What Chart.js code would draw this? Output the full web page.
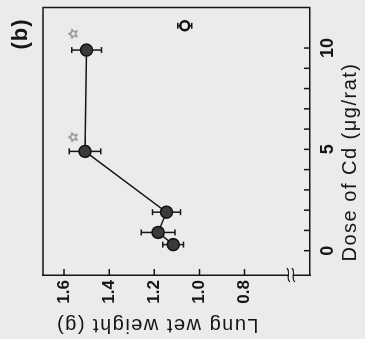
<!DOCTYPE html>
<html>
<head>
<meta charset="utf-8">
<script src="https://cdn.jsdelivr.net/npm/chart.js@4"></script>
<style>
  html, body { margin:0; padding:0; width:365px; height:339px; overflow:hidden; background:#ebebeb; }
  #wrap { position:absolute; left:0; top:0; width:339px; height:365px; transform-origin:0 0; transform: translateY(339px) rotate(-90deg); }
</style>
</head>
<body>
<div id="wrap"><canvas id="c" width="339" height="365"></canvas></div>
<script>
// ---- data ----
const doses      = [0.3, 0.9, 1.9, 4.9, 9.9];
const weights    = [1.116, 1.183, 1.146, 1.507, 1.500];
const weightErr  = [0.046, 0.075, 0.062, 0.070, 0.066];
const controlDose   = [11.1];
const controlWeight = [1.065];
const controlErr    = [0.031];
const starDoses   = [5.6, 10.7];
const starWeights = [1.56, 1.56];
const doseTicks   = [0,1,2,3,4,5,6,7,8,9,10];
const doseLabels  = [0,5,10];
const weightTicks = [0.8, 1.0, 1.2, 1.4, 1.6];

const BG = '#ebebeb';
const INK = '#161616';
const FONT = '"Liberation Sans", Arial, Helvetica, sans-serif';

// star point style (outline 5-point star)
const star = document.createElement('canvas');
star.width = 11; star.height = 11;
(function(){
  const g = star.getContext('2d');
  g.strokeStyle = '#555'; g.lineWidth = 0.9;
  g.beginPath();
  for (let i = 0; i < 10; i++) {
    const r = i % 2 === 0 ? 4.8 : 2.1;
    const a = -Math.PI/2 + i * Math.PI/5;
    const px = 5.5 + r*Math.cos(a), py = 5.7 + r*Math.sin(a);
    if (i === 0) g.moveTo(px, py); else g.lineTo(px, py);
  }
  g.closePath(); g.stroke();
})();

const decor = {
  id: 'decor',
  beforeDatasetsDraw(chart) {
    const ctx = chart.ctx, xs = chart.scales.x, ys = chart.scales.y;
    ctx.save();
    ctx.strokeStyle = INK; ctx.lineWidth = 1.5;
    chart.data.datasets.forEach(ds => {
      if (!ds.err) return;
      ds.data.forEach((p, i) => {
        const x = xs.getPixelForValue(p.x);
        const y1 = ys.getPixelForValue(p.y + ds.err[i]);
        const y2 = ys.getPixelForValue(p.y - ds.err[i]);
        ctx.beginPath();
        ctx.moveTo(x, y1); ctx.lineTo(x, y2);
        ctx.moveTo(x-3, y1); ctx.lineTo(x+3, y1);
        ctx.moveTo(x-3, y2); ctx.lineTo(x+3, y2);
        ctx.stroke();
      });
    });
    ctx.restore();
  },
  afterDraw(chart) {
    const ctx = chart.ctx, a = chart.chartArea, xs = chart.scales.x, ys = chart.scales.y;
    ctx.save();
    ctx.strokeStyle = INK; ctx.lineWidth = 1.5;
    // frame top & right
    ctx.beginPath();
    ctx.moveTo(a.left, a.top); ctx.lineTo(a.right, a.top); ctx.lineTo(a.right, a.bottom);
    ctx.stroke();
    // inward ticks
    ctx.beginPath();
    doseTicks.forEach(v => { const x = xs.getPixelForValue(v); ctx.moveTo(x, a.bottom); ctx.lineTo(x, a.bottom - 6); });
    weightTicks.forEach(v => { const y = ys.getPixelForValue(v); ctx.moveTo(a.left, y); ctx.lineTo(a.left + 6, y); });
    ctx.stroke();
    // axis break
    const yb = ys.getPixelForValue(0.595);
    ctx.fillStyle = BG;
    ctx.fillRect(a.left - 3, yb - 2, 6, 4);
    ctx.lineWidth = 1.2;
    [-2.5, 2.5].forEach(off => {
      ctx.beginPath();
      ctx.moveTo(a.left - 7, yb + off + 1.5);
      ctx.bezierCurveTo(a.left - 3, yb + off - 3, a.left + 3, yb + off + 3, a.left + 7, yb + off - 1.5);
      ctx.stroke();
    });
    // titles
    ctx.fillStyle = INK;
    ctx.textAlign = 'center'; ctx.textBaseline = 'middle';
    ctx.font = '20px ' + FONT;
    if ('letterSpacing' in ctx) ctx.letterSpacing = '1.5px';
    ctx.save();
    ctx.translate(14, 157); ctx.rotate(-Math.PI/2);
    ctx.fillText('Lung wet weight (g)', 0, 0);
    ctx.restore();
    ctx.fillText('Dose of Cd (\u03bcg/rat)', 177, 350);
    if ('letterSpacing' in ctx) ctx.letterSpacing = '1px';
    ctx.font = 'bold 22px ' + FONT;
    ctx.fillText('(b)', 305, 21);
    ctx.restore();
  }
};

new Chart(document.getElementById('c'), {
  type: 'scatter',
  data: {
    datasets: [
      {
        data: doses.map((d, i) => ({ x: d, y: weights[i] })),
        err: weightErr,
        showLine: true, borderColor: INK, borderWidth: 1.5,
        pointRadius: 6, pointBackgroundColor: '#3a3a3a', pointBorderColor: '#111', pointBorderWidth: 1.5
      },
      {
        data: controlDose.map((d, i) => ({ x: d, y: controlWeight[i] })),
        err: controlErr,
        showLine: false,
        pointRadius: 4.5, pointBackgroundColor: BG, pointBorderColor: '#111', pointBorderWidth: 2.5
      },
      {
        data: starDoses.map((d, i) => ({ x: d, y: starWeights[i] })),
        showLine: false, pointStyle: star, pointRadius: 5
      }
    ]
  },
  options: {
    responsive: false, animation: false, devicePixelRatio: 1,
    layout: { padding: { top: 43, right: 5, left: 0, bottom: 0 } },
    plugins: { legend: { display: false }, tooltip: { enabled: false } },
    scales: {
      x: {
        type: 'linear', min: -1.2, max: 12,
        afterBuildTicks: s => { s.ticks = doseTicks.map(v => ({ value: v })); },
        afterFit: s => { s.height = 55; },
        grid: { display: false, drawTicks: false },
        border: { display: true, color: INK, width: 1.5 },
        ticks: { autoSkip: false, maxRotation: 0, padding: 7, color: INK, font: { size: 18, weight: 'bold', family: FONT },
                 callback: v => doseLabels.includes(v) ? String(v) : '' }
      },
      y: {
        type: 'linear', min: 0.51, max: 1.693,
        afterBuildTicks: s => { s.ticks = weightTicks.map(v => ({ value: v })); },
        afterFit: s => { s.width = 64; },
        grid: { display: false, drawTicks: false },
        border: { display: true, color: INK, width: 1.5 },
        ticks: { autoSkip: false, padding: 5, color: INK, font: { size: 17, weight: 'bold', family: FONT },
                 callback: v => v.toFixed(1) }
      }
    }
  },
  plugins: [decor]
});
</script>
</body>
</html>
